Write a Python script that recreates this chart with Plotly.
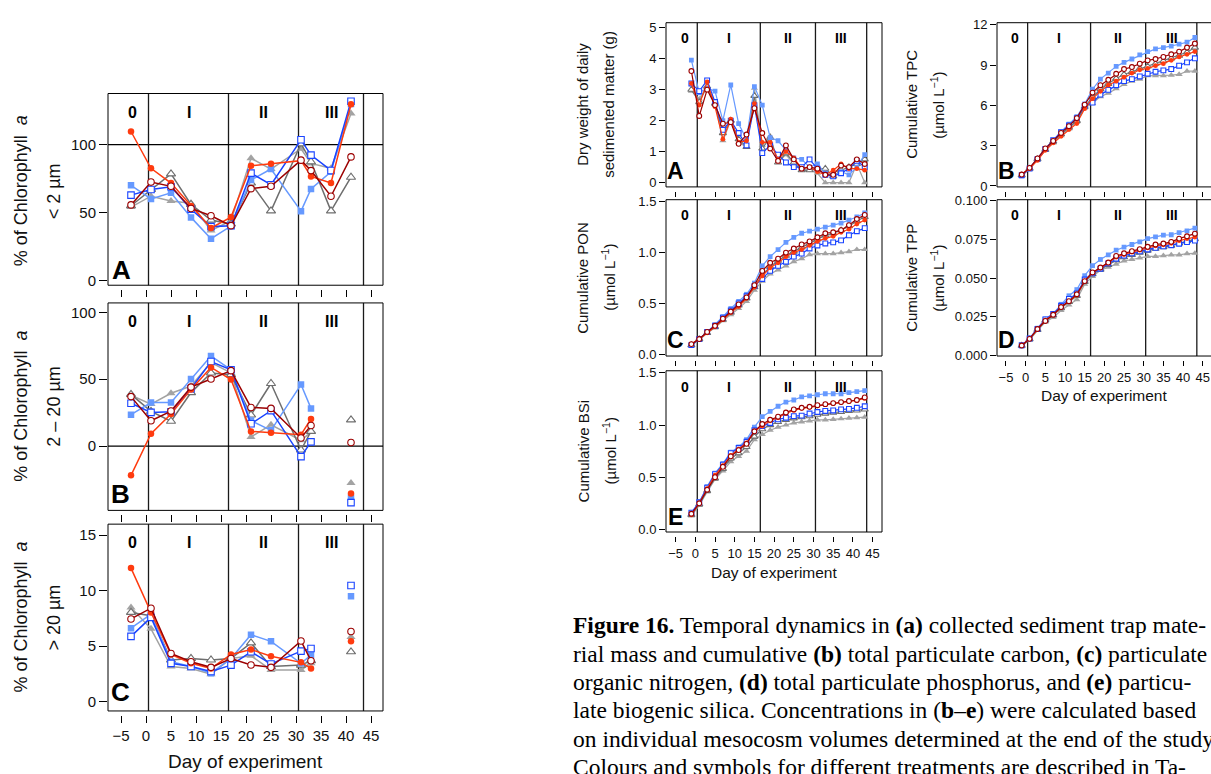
import plotly.graph_objects as go

W, H = 1211, 774
SANS = "Liberation Sans, Arial, Helvetica, sans-serif"
SERIF = "Liberation Serif, Times New Roman, serif"

# ---------------- treatments ----------------
treatments = ["grey", "darkgrey", "lightblue", "blue", "red", "darkred"]
colours = dict(grey="#A3A3A3", darkgrey="#6E6E6E", lightblue="#6699FF",
               blue="#1A44FF", red="#FF3B0F", darkred="#9C0000")
symbols = dict(grey="triangle-up", darkgrey="triangle-up", lightblue="square",
               blue="square", red="circle", darkred="circle")
hollow = dict(grey=False, darkgrey=True, lightblue=False, blue=True, red=False, darkred=True)

phase_bounds = [0.5, 16.5, 30.5, 43.5]
phase_labels = ["0", "I", "II", "III"]
phase_label_days = [-2.7, 8.5, 23.5, 37.1]
x_ticks = [-5, 0, 5, 10, 15, 20, 25, 30, 35, 40, 45]

# ---------------- chlorophyll size fractions (left) ----------------
days_chl = [-3, 1, 5, 9, 13, 17, 21, 25, 31, 33, 37, 41]

chl_lt2 = dict(
    lightblue=[70, 60, 64.5, 46.4, 30.7, 40, 74, 82, 51, 67.4, 80, 130],
    blue=[62.8, 67, 69, 52.4, 39.6, 40.3, 79, 70.5, 103.6, 92.3, 81, 132],
    red=[109.7, 82.6, 71.7, 54.8, 38.6, 46.6, 84.5, 86, 88.2, 76.6, 71.7, 129.7],
    darkred=[55.6, 72.5, 69.3, 53, 47.6, 40.3, 67.6, 69.3, 88.6, 80.9, 62, 91],
    grey=[54, 62, 58.5, 56.8, 36.7, 44, 89.9, 82, 97, 86.2, 82.6, 123],
    darkgrey=[55, 67, 78.5, 56, 44.4, 41.5, 71.7, 51.2, 100.7, 87.4, 51.2, 76],
)
chl_2_20 = dict(
    lightblue=[23.5, 32.6, 32.6, 50.2, 67.4, 57, 19.1, 11.8, 46, 28.2, None, -38.5],
    blue=[32, 25.2, 25.7, 42.9, 63.2, 57.1, 16.7, 26.5, -7.8, 3.2, None, -42.2],
    red=[-21.8, 9.3, 24, 42.4, 58.8, 49.8, 11, 10, 8.6, 20.3, None, -35.3],
    darkred=[37, 19, 26.2, 44.1, 50.2, 56.4, 28.9, 28.2, 6.1, 15.4, None, 2.7],
    grey=[38, 31.4, 39.5, 44.9, 62.5, 54.7, 6.9, 15.9, 4.4, 10.5, None, -27.5],
    darkgrey=[38.7, 26, 18.6, 40, 54.7, 53.4, 23.3, 46.8, -2.9, 11, None, 19.6],
)
chl_gt20 = dict(
    lightblue=[6.63, 7.9, 3.6, 3.17, 2.57, 3.9, 6.04, 5.44, 3.46, 4.2, None, 9.5],
    blue=[5.89, 7.6, 3.46, 3.17, 2.72, 3.3, 4.5, 3.4, 4.56, 4.8, None, 10.47],
    red=[12.04, 8.05, 4.26, 3.46, 3.0, 4.26, 4.7, 4.1, 3.55, 3.0, None, 5.44],
    darkred=[7.46, 8.43, 4.35, 3.6, 3.1, 3.9, 3.31, 3.1, 5.47, 3.7, None, 6.33],
    grey=[8.5, 6.57, 3.17, 3.0, 2.48, 3.9, 4.14, 2.87, 2.87, 3.46, None, 5.83],
    darkgrey=[8.05, 7.75, 3.76, 3.9, 3.76, 3.9, 5.3, 3.17, 3.3, 3.7, None, 4.5],
)

# ---------------- sediment trap (right) ----------------
days_sed = [-1, 1, 3, 5, 7, 9, 11, 13, 15, 17, 19, 21, 23, 25, 27, 29, 31, 33, 35, 37, 39, 41, 43]

dry_weight = dict(
    lightblue=[3.95, 2.9, 3.05, 2.95, 2.0, 3.15, 1.9, 1.4, 3.1, 2.5, 1.45, 1.35, 1.05, 0.8, 0.75, 0.5, 0.6, 0.3, 0.2, 0.35, 0.25, 0.5, 0.9],
    blue=[3.2, 2.95, 3.3, 2.6, 1.7, 2.0, 1.6, 1.2, 2.5, 0.95, 1.2, 0.9, 0.65, 0.5, 0.5, 0.75, 0.45, 0.25, 0.2, 0.3, 0.45, 0.7, 0.5],
    red=[3.2, 2.5, 3.25, 2.45, 1.4, 2.05, 1.3, 1.35, 2.55, 1.3, 1.3, 0.75, 1.0, 0.8, 0.45, 0.5, 0.35, 0.25, 0.4, 0.6, 0.45, 0.45, 0.4],
    darkred=[3.6, 2.15, 3.0, 2.5, 1.9, 1.95, 1.25, 1.55, 2.4, 1.6, 1.1, 0.7, 1.2, 0.75, 0.45, 0.5, 0.45, 0.25, 0.25, 0.55, 0.5, 0.75, 0.6],
    grey=[2.95, 2.7, 3.1, 2.6, 1.35, 2.0, 1.3, 1.15, 3.05, 1.2, 1.5, 0.65, 0.9, 0.6, 0.4, 0.4, 0.3, 0.0, 0.0, 0.0, 0.0, 0.6, 0.0],
    darkgrey=[3.0, 2.6, 3.1, 2.55, 1.6, 2.0, 1.4, 1.15, 2.8, 1.1, 1.45, 0.65, 0.95, 0.65, 0.4, 0.4, 0.45, 0.45, 0.2, 0.4, 0.5, 0.6, 0.75],
)
tpc = dict(
    lightblue=[0.75, 1.3, 2.05, 2.8, 3.4, 4.05, 4.6, 5.15, 6.1, 7.2, 7.95, 8.4, 8.9, 9.2, 9.45, 9.75, 10.0, 10.2, 10.3, 10.4, 10.55, 10.7, 11.05],
    blue=[0.8, 1.3, 2.0, 2.75, 3.4, 4.0, 4.5, 5.05, 5.95, 6.2, 6.8, 7.15, 7.5, 7.8, 7.95, 8.15, 8.35, 8.5, 8.6, 8.7, 8.95, 9.2, 9.5],
    red=[0.85, 1.3, 1.9, 2.65, 3.2, 3.7, 4.2, 4.65, 5.75, 6.5, 7.05, 7.5, 7.8, 8.1, 8.4, 8.65, 8.75, 8.95, 9.1, 9.35, 9.6, 9.8, 10.0],
    darkred=[0.85, 1.35, 2.05, 2.8, 3.35, 3.95, 4.45, 5.05, 6.05, 6.95, 7.5, 7.9, 8.35, 8.7, 8.85, 9.1, 9.35, 9.45, 9.6, 9.8, 10.0, 10.3, 10.6],
    grey=[0.75, 1.25, 1.95, 2.65, 3.2, 3.75, 4.25, 4.75, 5.8, 6.15, 6.65, 6.9, 7.25, 7.55, 7.8, 7.95, 8.2, 8.2, 8.2, 8.25, 8.3, 8.55, 8.55],
    darkgrey=[0.8, 1.3, 2.0, 2.7, 3.3, 3.85, 4.35, 4.85, 5.9, 6.6, 7.2, 7.6, 8.0, 8.3, 8.5, 8.75, 8.9, 9.1, 9.3, 9.5, 9.7, 9.95, 10.3],
)
pon = dict(
    lightblue=[0.09, 0.15, 0.22, 0.29, 0.37, 0.45, 0.52, 0.59, 0.70, 0.87, 0.96, 1.03, 1.10, 1.15, 1.19, 1.21, 1.23, 1.25, 1.27, 1.29, 1.32, 1.35, 1.39],
    blue=[0.09, 0.15, 0.22, 0.28, 0.36, 0.43, 0.50, 0.57, 0.67, 0.74, 0.82, 0.87, 0.91, 0.96, 0.99, 1.04, 1.07, 1.09, 1.10, 1.12, 1.17, 1.21, 1.24],
    red=[0.10, 0.15, 0.21, 0.27, 0.34, 0.41, 0.47, 0.55, 0.66, 0.77, 0.85, 0.90, 0.96, 1.00, 1.03, 1.07, 1.11, 1.14, 1.16, 1.20, 1.23, 1.28, 1.32],
    darkred=[0.10, 0.15, 0.22, 0.28, 0.35, 0.42, 0.49, 0.56, 0.68, 0.82, 0.90, 0.94, 1.00, 1.04, 1.08, 1.11, 1.15, 1.19, 1.20, 1.22, 1.27, 1.33, 1.37],
    grey=[0.09, 0.14, 0.21, 0.26, 0.33, 0.39, 0.45, 0.52, 0.63, 0.72, 0.79, 0.83, 0.87, 0.91, 0.94, 0.98, 0.99, 0.99, 0.99, 1.00, 1.01, 1.03, 1.03],
    darkgrey=[0.09, 0.15, 0.21, 0.27, 0.34, 0.41, 0.48, 0.55, 0.66, 0.78, 0.86, 0.92, 0.97, 1.01, 1.05, 1.09, 1.13, 1.17, 1.19, 1.22, 1.26, 1.31, 1.35],
)
tpp = dict(
    lightblue=[0.0060, 0.0110, 0.0175, 0.0235, 0.0270, 0.0330, 0.0385, 0.0425, 0.0515, 0.0580, 0.0620, 0.0650, 0.0680, 0.0700, 0.0717, 0.0734, 0.0755, 0.0766, 0.0777, 0.0780, 0.0794, 0.0805, 0.0823],
    blue=[0.0065, 0.0108, 0.0170, 0.0232, 0.0268, 0.0320, 0.0365, 0.0400, 0.0490, 0.0530, 0.0560, 0.0595, 0.0625, 0.0645, 0.0660, 0.0673, 0.0685, 0.0695, 0.0705, 0.0712, 0.0722, 0.0732, 0.0742],
    red=[0.0065, 0.0105, 0.0168, 0.0228, 0.0262, 0.0310, 0.0350, 0.0390, 0.0480, 0.0535, 0.0565, 0.0598, 0.0635, 0.0652, 0.0667, 0.0680, 0.0695, 0.0708, 0.0715, 0.0725, 0.0742, 0.0755, 0.0765],
    darkred=[0.0063, 0.0106, 0.0170, 0.0222, 0.0262, 0.0312, 0.0350, 0.0395, 0.0480, 0.0536, 0.0568, 0.0600, 0.0643, 0.0660, 0.0674, 0.0687, 0.0702, 0.0717, 0.0723, 0.0734, 0.0755, 0.0770, 0.0787],
    grey=[0.0060, 0.0100, 0.0160, 0.0215, 0.0245, 0.0290, 0.0325, 0.0360, 0.0460, 0.0510, 0.0550, 0.0570, 0.0590, 0.0610, 0.0620, 0.0630, 0.0640, 0.0640, 0.0645, 0.0650, 0.0650, 0.0658, 0.0660],
    darkgrey=[0.0062, 0.0104, 0.0165, 0.0225, 0.0258, 0.0305, 0.0345, 0.0385, 0.0475, 0.0525, 0.0555, 0.0585, 0.0615, 0.0635, 0.0650, 0.0665, 0.0678, 0.0690, 0.0700, 0.0710, 0.0725, 0.0738, 0.0752],
)
bsi = dict(
    lightblue=[0.16, 0.26, 0.41, 0.54, 0.63, 0.74, 0.79, 0.86, 0.98, 1.08, 1.13, 1.18, 1.22, 1.24, 1.27, 1.28, 1.29, 1.30, 1.30, 1.30, 1.31, 1.32, 1.33],
    blue=[0.16, 0.26, 0.40, 0.53, 0.62, 0.73, 0.78, 0.84, 0.95, 0.99, 1.02, 1.055, 1.07, 1.085, 1.09, 1.11, 1.125, 1.135, 1.14, 1.15, 1.155, 1.165, 1.18],
    red=[0.14, 0.25, 0.39, 0.52, 0.61, 0.71, 0.77, 0.83, 0.94, 0.99, 1.04, 1.07, 1.11, 1.14, 1.16, 1.17, 1.185, 1.195, 1.205, 1.215, 1.225, 1.235, 1.255],
    darkred=[0.15, 0.25, 0.38, 0.50, 0.60, 0.70, 0.76, 0.82, 0.94, 1.01, 1.05, 1.08, 1.12, 1.15, 1.165, 1.175, 1.19, 1.20, 1.21, 1.22, 1.23, 1.24, 1.265],
    grey=[0.13, 0.23, 0.36, 0.48, 0.56, 0.65, 0.70, 0.75, 0.86, 0.91, 0.95, 0.98, 1.00, 1.02, 1.03, 1.04, 1.05, 1.05, 1.055, 1.06, 1.065, 1.07, 1.075],
    darkgrey=[0.14, 0.24, 0.37, 0.49, 0.58, 0.68, 0.73, 0.79, 0.89, 0.96, 1.00, 1.03, 1.05, 1.065, 1.075, 1.085, 1.10, 1.11, 1.12, 1.125, 1.135, 1.14, 1.15],
)

caption_lines = [
    "<b>Figure 16.</b> Temporal dynamics in <b>(a)</b> collected sediment trap mate-",
    "rial mass and cumulative <b>(b)</b> total particulate carbon, <b>(c)</b> particulate",
    "organic nitrogen, <b>(d)</b> total particulate phosphorus, and <b>(e)</b> particu-",
    "late biogenic silica. Concentrations in (<b>b</b>–<b>e</b>) were calculated based",
    "on individual mesocosm volumes determined at the end of the study.",
    "Colours and symbols for different treatments are described in Ta-",
]

# ---------------- panel layout (pixel boxes: left, right, top, bottom) ----------------
big = dict(tf=15, tl=7, ms=6.5, lw=1.5, letter_size=26, ph_size=16, ph_off=19, title=18)
small = dict(tf=13, tl=5, ms=4.8, lw=1.2, letter_size=23, ph_size=14, ph_off=16, title=15)
panels = [
    dict(data=chl_lt2, days=days_chl, box=(108, 383, 89, 284), xr=[-7.6, 47.4], yr=[-3.6, 137.7],
         ytv=[0, 50, 100], yfmt="", xlab=False, hline=100, letter="A", letter_xy=(121, 269),
         ytitle=["% of Chlorophyll\u00a0\u00a0<i>a</i>", "< 2 µm"], ytx=(21, 54), style=big),
    dict(data=chl_2_20, days=days_chl, box=(108, 383, 302, 513), xr=[-7.6, 47.4], yr=[-48, 107],
         ytv=[0, 50, 100], yfmt="", xlab=False, hline=0, letter="B", letter_xy=(120, 496),
         ytitle=["% of Chlorophyll\u00a0\u00a0<i>a</i>", "2 – 20 µm"], ytx=(21, 54), style=big),
    dict(data=chl_gt20, days=days_chl, box=(108, 383, 527, 717), xr=[-7.6, 47.4], yr=[-0.83, 16],
         ytv=[0, 5, 10, 15], yfmt="", xlab=True, hline=None, letter="C", letter_xy=(120, 698),
         ytitle=["% of Chlorophyll\u00a0\u00a0<i>a</i>", "> 20 µm"], ytx=(21, 54), style=big),
    dict(data=dry_weight, days=days_sed, box=(666, 882, 17, 184), xr=[-7.44, 47.39], yr=[-0.14, 5.16],
         ytv=[0, 1, 2, 3, 4, 5], yfmt="", xlab=False, hline=None, letter="A", letter_xy=(675, 168),
         ytitle=["Dry weight of daily", "sedimented matter (g)"], ytx=(583, 609), style=small),
    dict(data=pon, days=days_sed, box=(666, 882, 197, 356), xr=[-7.44, 47.39], yr=[-0.017, 1.52],
         ytv=[0, 0.5, 1.0, 1.5], yfmt=".1f", xlab=False, hline=None, letter="C", letter_xy=(675, 340),
         ytitle=["Cumulative PON", "(µmol L<sup>−1</sup>)"], ytx=(583, 609), style=small),
    dict(data=bsi, days=days_sed, box=(666, 882, 371, 535), xr=[-7.44, 47.39], yr=[-0.025, 1.52],
         ytv=[0, 0.5, 1.0, 1.5], yfmt=".1f", xlab=True, hline=None, letter="E", letter_xy=(675, 520),
         ytitle=["Cumulative BSi", "(µmol L<sup>−1</sup>)"], ytx=(583, 609), style=small),
    dict(data=tpc, days=days_sed, box=(997, 1211, 17, 184), xr=[-7.28, 47.1], yr=[-0.07, 12.15],
         ytv=[0, 3, 6, 9, 12], yfmt="", xlab=False, hline=None, letter="B", letter_xy=(1006, 168),
         ytitle=["Cumulative TPC", "(µmol L<sup>−1</sup>)"], ytx=(912, 938), style=small, clip=True),
    dict(data=tpp, days=days_sed, box=(997, 1211, 197, 356), xr=[-7.28, 47.1], yr=[-0.0005, 0.1007],
         ytv=[0, 0.025, 0.05, 0.075, 0.1], yfmt=".3f", xlab=True, hline=None, letter="D", letter_xy=(1006, 340),
         ytitle=["Cumulative TPP", "(µmol L<sup>−1</sup>)"], ytx=(912, 938), style=small, clip=True),
]


def px(xp):
    return xp / W


def py(yp):
    return 1 - yp / H


fig = go.Figure()
layout = dict(width=W, height=H, margin=dict(l=0, r=0, t=0, b=0), autosize=False,
              paper_bgcolor="white", plot_bgcolor="white", showlegend=False)
shapes, annotations = [], []

for i, p in enumerate(panels, start=1):
    sfx = "" if i == 1 else str(i)
    xn, yn = "x" + sfx, "y" + sfx
    st = p["style"]
    l, r, t, b = p["box"]

    for tr in treatments:
        fig.add_trace(go.Scatter(
            x=p["days"], y=p["data"][tr], xaxis=xn, yaxis=yn, mode="lines+markers",
            connectgaps=False, hoverinfo="skip",
            line=dict(color=colours[tr], width=st["lw"]),
            marker=dict(symbol=symbols[tr],
                        size=st["ms"] + (1.5 if symbols[tr] == "triangle-up" else 0),
                        color="white" if hollow[tr] else colours[tr],
                        line=dict(color=colours[tr], width=1.1 if hollow[tr] else 0)),
        ))

    layout["xaxis" + sfx] = dict(
        domain=[px(l), min(px(r), 1.0)], range=p["xr"], anchor="free", position=py(b + 4),
        side="bottom", tickvals=x_ticks, ticks="outside", ticklen=st["tl"], tickwidth=1,
        tickcolor="black", showticklabels=p["xlab"],
        tickfont=dict(family=SANS, size=st["tf"], color="#111"),
        showline=False, showgrid=False, zeroline=False, fixedrange=True)
    layout["yaxis" + sfx] = dict(
        domain=[py(b), py(t)], range=p["yr"], anchor=xn, side="left",
        tickvals=p["ytv"], tickformat=p["yfmt"], ticks="outside", ticklen=st["tl"] + 1,
        tickwidth=1, tickcolor="black",
        tickfont=dict(family=SANS, size=st["tf"], color="#111"),
        showline=False, showgrid=False, zeroline=False, fixedrange=True)

    # plot frame
    ln = dict(color="black", width=1)
    if p.get("clip"):
        for (x0, y0, x1, y1) in [(0, 0, 0, 1), (0, 1, 1, 1), (0, 0, 1, 0)]:
            shapes.append(dict(type="line", xref=xn + " domain", yref=yn + " domain",
                               x0=x0, y0=y0, x1=x1, y1=y1, line=ln, layer="above"))
    else:
        shapes.append(dict(type="rect", xref=xn + " domain", yref=yn + " domain",
                           x0=0, y0=0, x1=1, y1=1, line=ln, layer="above"))
    # phase boundaries
    for v in phase_bounds:
        shapes.append(dict(type="line", xref=xn, yref=yn + " domain", x0=v, x1=v, y0=0, y1=1,
                           line=dict(color="#1a1a1a", width=1.3), layer="below"))
    if p["hline"] is not None:
        shapes.append(dict(type="line", xref=xn + " domain", yref=yn, x0=0, x1=1,
                           y0=p["hline"], y1=p["hline"],
                           line=dict(color="black", width=1.3), layer="below"))
    # phase labels
    for lab, d in zip(phase_labels, phase_label_days):
        annotations.append(dict(text="<b>" + lab + "</b>", xref=xn, yref="paper", x=d,
                                y=py(t + st["ph_off"]), showarrow=False, xanchor="center",
                                yanchor="middle", font=dict(family=SANS, size=st["ph_size"], color="black")))
    # panel letter
    lx, ly = p["letter_xy"]
    annotations.append(dict(text="<b>" + p["letter"] + "</b>", xref="paper", yref="paper",
                            x=px(lx), y=py(ly), showarrow=False, xanchor="center", yanchor="middle",
                            font=dict(family=SANS, size=st["letter_size"], color="black")))
    # y titles (two lines)
    for txt, tx in zip(p["ytitle"], p["ytx"]):
        annotations.append(dict(text=txt, xref="paper", yref="paper", x=px(tx),
                                y=py((t + b) / 2 + (2 if i == 1 else 0)),
                                textangle=-90, showarrow=False, xanchor="center", yanchor="middle",
                                font=dict(family=SANS, size=st["title"], color="#111")))

# x titles
for (cx, cy, size) in [(245.5, 768, 19), (774, 576, 15.5), (1104, 396, 15.5)]:
    annotations.append(dict(text="Day of experiment", xref="paper", yref="paper", x=px(cx), y=py(cy),
                            showarrow=False, xanchor="center", yanchor="middle",
                            font=dict(family=SANS, size=size, color="#111")))

# caption
for k, line in enumerate(caption_lines):
    annotations.append(dict(text=line, xref="paper", yref="paper", x=px(571), y=py(630 + 28.8 * k),
                            showarrow=False, xanchor="left", yanchor="middle",
                            font=dict(family=SERIF, size=23.5, color="black")))

layout["shapes"] = shapes
layout["annotations"] = annotations
fig.update_layout(**layout)
fig.write_html("out.html", config=dict(responsive=False, displayModeBar=False),
               post_script="document.body.style.margin='0';document.body.style.padding='0';"
                           "document.documentElement.style.overflow='hidden';")
